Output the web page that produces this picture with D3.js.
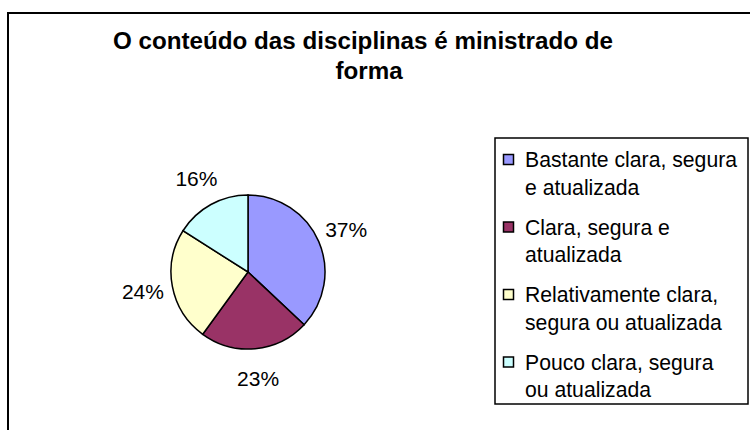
<!DOCTYPE html>
<html>
<head>
<meta charset="utf-8">
<script src="https://cdn.jsdelivr.net/npm/d3@7"></script>
<style>
    body { margin: 0; background: #fff; }
    svg { display: block; font-family: "Liberation Sans", Arial, sans-serif; }
</style>
</head>
<body>
<script>
// chart data
const title = "O conteúdo das disciplinas é ministrado de forma";
const categories = [
    "Bastante clara, segura e atualizada",
    "Clara, segura e atualizada",
    "Relativamente clara, segura ou atualizada",
    "Pouco clara, segura ou atualizada"
];
const values = [37, 23, 24, 16];
const colors = ["#9999FF", "#993366", "#FFFFCC", "#CCFFFF"];

const width = 750, height = 430;

let svg = d3.select("body").append("svg")
    .attr("width", width)
    .attr("height", height);

// outer chart border (runs off the right and bottom of the picture)
svg.append("rect")
    .attr("x", 8).attr("y", 13)
    .attr("width", 800).attr("height", 500)
    .attr("fill", "#fff")
    .attr("stroke", "#000")
    .attr("stroke-width", 2);

// title, split in two lines like the original
let titleText = svg.append("text")
    .attr("text-anchor", "middle")
    .attr("font-weight", "bold")
    .attr("font-size", 24.2);
let words = title.split(" ");
titleText.append("tspan").attr("x", 363).attr("y", 49).text(words.slice(0, -1).join(" "));
titleText.append("tspan").attr("x", 369).attr("y", 79).text(words[words.length - 1]);

// pie
const cx = 248, cy = 272, r = 77;
let pie = d3.pie().sort(null).value(d => d);
let arcs = pie(values);
let arc = d3.arc().innerRadius(0).outerRadius(r);
let labelArc = d3.arc().innerRadius(107).outerRadius(107);
const total = d3.sum(values);

let g = svg.append("g").attr("transform", "translate(" + cx + "," + cy + ")");
g.selectAll("path")
    .data(arcs)
    .join("path")
    .attr("d", arc)
    .attr("fill", (d, i) => colors[i])
    .attr("stroke", "#000")
    .attr("stroke-width", 1.5);

g.selectAll("text")
    .data(arcs)
    .join("text")
    .attr("x", d => labelArc.centroid(d)[0])
    .attr("y", d => labelArc.centroid(d)[1])
    .attr("dy", "0.35em")
    .attr("text-anchor", "middle")
    .attr("font-size", 21)
    .text(d => Math.round(d.value / total * 100) + "%");

// legend
svg.append("rect")
    .attr("x", 495).attr("y", 138)
    .attr("width", 253).attr("height", 266)
    .attr("fill", "#fff")
    .attr("stroke", "#000")
    .attr("stroke-width", 1.5);

let legend = svg.append("g");
categories.forEach((name, i) => {
    let top = 167 + i * 67.5;
    legend.append("rect")
        .attr("x", 503.5).attr("y", top - 12.5)
        .attr("width", 10).attr("height", 10)
        .attr("fill", colors[i])
        .attr("stroke", "#000")
        .attr("stroke-width", 1.5);
    let t = legend.append("text")
        .attr("font-size", 21.2);
    // wrap text at the legend width
    let parts = name.split(" "), line = [], lines = [];
    let probe = t.append("tspan");
    parts.forEach(w => {
        probe.text(line.concat(w).join(" "));
        if (probe.node().getComputedTextLength() > 215 && line.length) {
            lines.push(line.join(" "));
            line = [w];
        } else line.push(w);
    });
    lines.push(line.join(" "));
    probe.remove();
    lines.forEach((l, j) => {
        t.append("tspan").attr("x", 525).attr("y", top + j * 27.5).text(l);
    });
});
</script>
</body>
</html>
